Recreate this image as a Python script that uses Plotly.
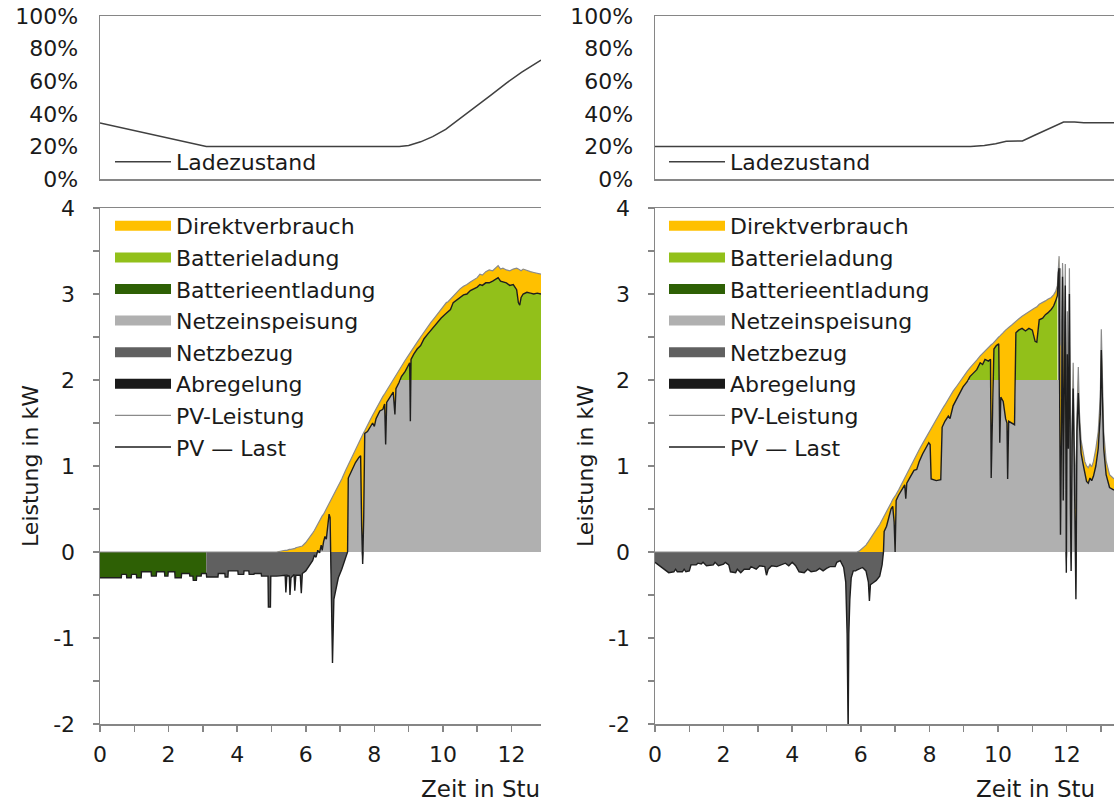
import numpy as np
import plotly.graph_objects as go

# ------------------------------------------------------------------
# DATA
# ------------------------------------------------------------------
# Left day: state of charge (%)
soc_t_L = [0.00, 1.43, 3.10, 8.73, 9.00, 9.35, 9.70, 10.08, 10.50, 10.92, 11.40, 11.86, 12.30, 12.86]
soc_L = [34.4, 27.7, 20.0, 20.0, 20.6, 22.8, 26.0, 30.5, 37.0, 43.8, 51.5, 59.0, 65.5, 73.0]

# Left day: night (PV = 0), PV - Last in kW
t_night_L = [0.00, 0.62, 0.63, 0.77, 0.78, 0.91, 0.92, 1.06, 1.07, 1.20,
             1.21, 1.49, 1.50, 1.64, 1.65, 1.88, 1.89, 1.98, 1.99, 2.18,
             2.19, 2.37, 2.38, 2.61, 2.62, 2.71, 2.72, 2.81, 2.82, 2.95,
             2.96, 3.10, 3.11, 3.44, 3.45, 3.64, 3.65, 3.73, 3.74, 4.02,
             4.03, 4.19, 4.20, 4.34, 4.35, 4.49, 4.50, 4.70, 4.71, 4.90,
             4.91, 4.97, 4.98, 5.10]
net_night_L = [-0.30, -0.30, -0.26, -0.26, -0.30, -0.30, -0.26, -0.26, -0.30, -0.30,
               -0.23, -0.23, -0.28, -0.28, -0.23, -0.23, -0.28, -0.28, -0.23, -0.23,
               -0.30, -0.30, -0.25, -0.25, -0.28, -0.28, -0.33, -0.33, -0.28, -0.28,
               -0.25, -0.25, -0.29, -0.29, -0.25, -0.25, -0.29, -0.29, -0.22, -0.22,
               -0.26, -0.26, -0.22, -0.22, -0.26, -0.26, -0.25, -0.25, -0.28, -0.28,
               -0.64, -0.64, -0.28, -0.28]

# Left day: daylight, PV power and PV - Last in kW
t_day_L = [5.15, 5.40, 5.42, 5.45, 5.52, 5.54, 5.57, 5.66, 5.68, 5.71,
           5.84, 5.87, 5.90, 6.00, 6.10, 6.20, 6.25, 6.30, 6.35, 6.40,
           6.45, 6.48, 6.52, 6.56, 6.60, 6.64, 6.68, 6.71, 6.74, 6.78,
           6.82, 6.88, 6.95, 7.05, 7.15, 7.22, 7.24, 7.35, 7.45, 7.55,
           7.60, 7.63, 7.66, 7.69, 7.72, 7.80, 7.87, 7.95, 8.00, 8.05,
           8.16, 8.25, 8.30, 8.33, 8.36, 8.45, 8.55, 8.60, 8.63, 8.72,
           8.79, 8.90, 9.00, 9.03, 9.05, 9.07, 9.15, 9.25, 9.35, 9.45,
           9.55, 9.65, 9.75, 9.85, 9.95, 10.05, 10.10, 10.15, 10.22, 10.30,
           10.40, 10.50, 10.60, 10.70, 10.80, 10.90, 11.00, 11.08, 11.15, 11.25,
           11.35, 11.45, 11.55, 11.61, 11.68, 11.75, 11.85, 11.95, 12.05, 12.15,
           12.20, 12.24, 12.28, 12.34, 12.45, 12.55, 12.65, 12.75, 12.86]
pv_day_L = [0.00, 0.02, 0.02, 0.02, 0.03, 0.03, 0.03, 0.04, 0.04, 0.05,
            0.06, 0.07, 0.07, 0.11, 0.16, 0.22, 0.25, 0.29, 0.32, 0.36,
            0.40, 0.42, 0.44, 0.47, 0.50, 0.53, 0.56, 0.58, 0.60, 0.63,
            0.66, 0.71, 0.77, 0.85, 0.94, 1.00, 1.02, 1.11, 1.20, 1.29,
            1.33, 1.35, 1.37, 1.39, 1.41, 1.48, 1.53, 1.59, 1.63, 1.66,
            1.75, 1.81, 1.84, 1.86, 1.88, 1.94, 2.01, 2.04, 2.06, 2.12,
            2.16, 2.23, 2.29, 2.31, 2.32, 2.33, 2.38, 2.44, 2.50, 2.56,
            2.62, 2.67, 2.72, 2.77, 2.82, 2.87, 2.90, 2.91, 2.94, 2.98,
            3.02, 3.06, 3.09, 3.11, 3.14, 3.17, 3.19, 3.23, 3.22, 3.26,
            3.28, 3.27, 3.31, 3.33, 3.29, 3.30, 3.28, 3.27, 3.29, 3.30,
            3.29, 3.28, 3.27, 3.29, 3.27, 3.26, 3.25, 3.24, 3.23]
net_day_L = [-0.28, -0.27, -0.47, -0.27, -0.28, -0.50, -0.30, -0.26, -0.45, -0.27,
             -0.27, -0.48, -0.25, -0.22, -0.16, -0.10, -0.04, -0.06, 0.02, -0.01,
             0.08, 0.02, 0.12, 0.18, 0.15, 0.30, 0.44, 0.40, -0.30, -1.29,
             -0.55, -0.45, -0.30, -0.20, -0.08, 0.00, 0.86, 0.96, 1.04, 1.10,
             1.12, 0.30, -0.14, 0.40, 1.38, 1.40, 1.45, 1.50, 1.46, 1.55,
             1.64, 1.66, 1.72, 1.25, 1.74, 1.80, 1.86, 1.60, 1.90, 1.97,
             2.04, 2.10, 2.18, 2.20, 1.52, 2.24, 2.30, 2.36, 2.40, 2.48,
             2.53, 2.58, 2.62, 2.68, 2.72, 2.76, 2.78, 2.80, 2.82, 2.90,
             2.93, 2.95, 2.99, 3.00, 3.04, 3.06, 3.08, 3.11, 3.10, 3.13,
             3.13, 3.15, 3.17, 3.19, 3.15, 3.14, 3.13, 3.10, 3.11, 3.05,
             2.90, 2.87, 2.96, 3.00, 3.02, 3.01, 3.00, 3.01, 3.00]

# Right day: state of charge (%)
soc_t_R = [0.00, 9.20, 9.60, 9.93, 10.24, 10.71, 11.05, 11.36, 11.70, 11.91, 12.23, 12.50, 13.38]
soc_R = [20.0, 20.0, 20.6, 21.6, 23.2, 23.3, 26.7, 29.6, 32.9, 34.9, 34.9, 34.5, 34.5]

# Right day: night (PV = 0), PV - Last in kW
t_night_R = [0.00, 0.10, 0.20, 0.30, 0.40, 0.55, 0.60, 0.65, 0.80, 0.85,
             0.90, 1.00, 1.05, 1.20, 1.25, 1.35, 1.40, 1.50, 1.70, 1.75,
             1.85, 2.00, 2.05, 2.15, 2.20, 2.35, 2.40, 2.50, 2.60, 2.75,
             2.80, 2.95, 3.05, 3.20, 3.25, 3.30, 3.40, 3.55, 3.70, 3.80,
             3.90, 4.00, 4.10, 4.20, 4.35, 4.45, 4.55, 4.70, 4.80, 4.90,
             5.00, 5.10, 5.25, 5.30, 5.40, 5.50, 5.56, 5.60, 5.63, 5.65,
             5.68, 5.72, 5.78, 5.85]
net_night_R = [-0.12, -0.15, -0.19, -0.22, -0.24, -0.23, -0.20, -0.23, -0.23, -0.20,
               -0.23, -0.22, -0.15, -0.15, -0.13, -0.14, -0.12, -0.16, -0.15, -0.12,
               -0.16, -0.14, -0.12, -0.15, -0.23, -0.24, -0.20, -0.24, -0.20, -0.20,
               -0.17, -0.20, -0.16, -0.17, -0.27, -0.20, -0.16, -0.17, -0.15, -0.13,
               -0.16, -0.12, -0.16, -0.23, -0.24, -0.20, -0.23, -0.22, -0.19, -0.22,
               -0.19, -0.17, -0.17, -0.12, -0.10, -0.18, -0.35, -0.95, -2.10, -0.95,
               -0.55, -0.30, -0.22, -0.22]

# Right day: daylight, PV power and PV - Last in kW
t_day_R = [5.88, 5.95, 6.05, 6.15, 6.22, 6.25, 6.28, 6.35, 6.45, 6.55,
           6.62, 6.66, 6.68, 6.75, 6.82, 6.88, 6.93, 6.97, 7.00, 7.03,
           7.10, 7.20, 7.28, 7.31, 7.34, 7.45, 7.55, 7.63, 7.70, 7.80,
           7.91, 7.98, 8.02, 8.05, 8.20, 8.33, 8.37, 8.45, 8.55, 8.60,
           8.69, 8.80, 8.90, 8.98, 9.10, 9.18, 9.28, 9.38, 9.48, 9.55,
           9.62, 9.72, 9.78, 9.80, 9.84, 9.88, 9.95, 10.02, 10.05, 10.08,
           10.15, 10.22, 10.26, 10.28, 10.31, 10.40, 10.48, 10.52, 10.60, 10.70,
           10.80, 10.90, 11.00, 11.08, 11.13, 11.20, 11.30, 11.38, 11.45, 11.55,
           11.62, 11.68, 11.73, 11.76, 11.78, 11.80, 11.82, 11.85, 11.88, 11.90,
           11.93, 11.96, 11.99, 12.02, 12.05, 12.08, 12.11, 12.13, 12.16, 12.19,
           12.22, 12.25, 12.27, 12.30, 12.34, 12.37, 12.42, 12.48, 12.53, 12.58,
           12.63, 12.68, 12.73, 12.78, 12.85, 12.92, 12.98, 13.01, 13.04, 13.08,
           13.15, 13.25, 13.38]
pv_day_R = [0.00, 0.01, 0.04, 0.08, 0.12, 0.14, 0.16, 0.20, 0.26, 0.32,
            0.37, 0.40, 0.42, 0.47, 0.52, 0.57, 0.61, 0.63, 0.65, 0.67,
            0.72, 0.80, 0.87, 0.89, 0.91, 1.00, 1.08, 1.14, 1.19, 1.26,
            1.34, 1.39, 1.42, 1.44, 1.54, 1.63, 1.66, 1.71, 1.78, 1.81,
            1.87, 1.93, 1.99, 2.04, 2.10, 2.14, 2.18, 2.23, 2.28, 2.31,
            2.34, 2.38, 2.40, 2.41, 2.42, 2.44, 2.47, 2.50, 2.51, 2.52,
            2.55, 2.58, 2.59, 2.60, 2.61, 2.64, 2.67, 2.68, 2.71, 2.74,
            2.77, 2.80, 2.82, 2.84, 2.85, 2.88, 2.90, 2.92, 2.94, 2.96,
            2.99, 3.03, 3.10, 3.38, 3.44, 2.40, 3.30, 1.80, 3.36, 3.00,
            2.00, 3.35, 1.20, 2.80, 1.60, 3.30, 1.00, 0.60, 1.50, 2.20,
            1.30, 1.00, 0.50, 1.60, 2.15, 1.64, 1.30, 1.18, 1.05, 1.00,
            0.98, 1.02, 0.99, 1.05, 1.20, 1.40, 1.80, 2.59, 2.00, 1.40,
            1.06, 0.90, 0.85]
net_day_R = [-0.21, -0.20, -0.18, -0.22, -0.35, -0.57, -0.38, -0.36, -0.33, -0.28,
             -0.15, 0.00, 0.24, 0.30, 0.40, 0.50, 0.53, 0.35, 0.00, 0.60,
             0.66, 0.72, 0.78, 0.62, 0.80, 0.88, 0.95, 0.96, 1.05, 1.14,
             1.22, 1.27, 1.25, 0.85, 0.83, 0.84, 1.45, 1.52, 1.58, 1.55,
             1.70, 1.78, 1.86, 1.92, 1.98, 2.04, 2.08, 2.12, 2.20, 2.18,
             2.24, 2.22, 2.24, 0.86, 1.62, 2.36, 2.40, 2.42, 1.27, 1.80,
             1.75, 1.55, 1.50, 0.85, 1.52, 1.50, 1.48, 2.55, 2.58, 2.60,
             2.57, 2.60, 2.58, 2.45, 2.44, 2.70, 2.72, 2.76, 2.78, 2.82,
             2.86, 2.92, 2.98, 3.25, 3.30, 1.50, 0.20, 1.40, 3.20, 0.60,
             1.80, 3.10, -0.24, 2.30, 1.20, 3.00, 0.50, -0.22, 1.30, 1.90,
             1.10, 0.40, -0.55, 1.40, 1.85, 1.50, 1.15, 1.02, 0.90, 0.82,
             0.80, 0.86, 0.83, 0.88, 1.00, 1.20, 1.60, 2.35, 1.80, 1.20,
             0.90, 0.75, 0.72]

FEED_LIMIT = 2.0          # kW, grid feed-in limit
DISCHARGE_END_L = 3.10    # h, battery reaches minimum SOC (left day)
CHARGE_END_L = 12.86      # h, battery charging allowed until (left day)
DISCHARGE_END_R = 0.0     # h, no discharge on right day
CHARGE_END_R = 11.75      # h, battery charging stops (right day)

X_MAX_L = 12.86
X_MAX_R = 13.38

SOC_TICKS = [0, 20, 40, 60, 80, 100]
SOC_TICKTEXT = ["0%", "20%", "40%", "60%", "80%", "100%"]
P_TICKS = [-2, -1.5, -1, -0.5, 0, 0.5, 1, 1.5, 2, 2.5, 3, 3.5, 4]
P_TICKTEXT = ["-2", "", "-1", "", "0", "", "1", "", "2", "", "3", "", "4"]
T_TICKS = [0, 1, 2, 3, 4, 5, 6, 7, 8, 9, 10, 11, 12, 13]
T_TICKTEXT = ["0", "", "2", "", "4", "", "6", "", "8", "", "10", "", "12", ""]

# ------------------------------------------------------------------
# STYLE
# ------------------------------------------------------------------
FONT = "DejaVu Sans"
TXT = "#1a1a1a"
C_DIRECT = "#FFC000"
C_CHARGE = "#92C01A"
C_DISCH = "#2E6005"
C_FEED = "#B0B0B0"
C_GRID = "#606060"
C_CURT = "#1A1A1A"
C_PV = "#8A8A8A"
C_NET = "#1E1E1E"
C_SOC = "#404040"
C_AXIS = "#868686"

W, H = 1114, 803


def px_x(p):
    return p / W


def px_y(p):
    return 1 - p / H


fig = go.Figure()


def add_band(x, lo, hi, color, xa, ya):
    fig.add_trace(go.Scatter(x=x, y=lo, mode="lines", line=dict(width=0, color=color),
                             showlegend=False, hoverinfo="skip", xaxis=xa, yaxis=ya))
    fig.add_trace(go.Scatter(x=x, y=hi, mode="lines", line=dict(width=0, color=color),
                             fill="tonexty", fillcolor=color, showlegend=False,
                             hoverinfo="skip", xaxis=xa, yaxis=ya))


def power_panel(t_n, net_n, t_d, pv_d, net_d, dis_end, chg_end, xa, ya, leg):
    t = np.array(t_n + t_d, dtype=float)
    pv = np.concatenate([np.zeros(len(t_n)), np.array(pv_d, dtype=float)])
    net = np.array(net_n + net_d, dtype=float)
    zero = np.zeros_like(t)
    lim = np.full_like(t, FEED_LIMIT)
    pos = np.maximum(net, 0)
    neg = np.minimum(net, 0)
    feed = np.minimum(pos, FEED_LIMIT)
    over = np.maximum(net, FEED_LIMIT)

    add_band(t, zero, feed, C_FEED, xa, ya)                       # Netzeinspeisung
    m = t <= chg_end
    add_band(t[m], lim[m], over[m], C_CHARGE, xa, ya)             # Batterieladung
    m = t >= chg_end
    if m.sum() > 1:
        add_band(t[m], lim[m], over[m], C_CURT, xa, ya)           # Abregelung
    add_band(t, pos, pv, C_DIRECT, xa, ya)                        # Direktverbrauch
    m = t <= dis_end
    if m.sum() > 1:
        add_band(t[m], neg[m], zero[m], C_DISCH, xa, ya)          # Batterieentladung
    m = t >= dis_end
    add_band(t[m], neg[m], zero[m], C_GRID, xa, ya)               # Netzbezug

    fig.add_trace(go.Scatter(x=t, y=pv, mode="lines", line=dict(color=C_PV, width=1.2),
                             name="PV-Leistung", legend=leg, legendrank=7,
                             hoverinfo="skip", xaxis=xa, yaxis=ya))
    fig.add_trace(go.Scatter(x=t, y=net, mode="lines", line=dict(color=C_NET, width=1.4),
                             name="PV \u2014 Last", legend=leg, legendrank=8,
                             hoverinfo="skip", xaxis=xa, yaxis=ya))
    entries = [("Direktverbrauch", C_DIRECT), ("Batterieladung", C_CHARGE),
               ("Batterieentladung", C_DISCH), ("Netzeinspeisung", C_FEED),
               ("Netzbezug", C_GRID), ("Abregelung", C_CURT)]
    for i, (name, col) in enumerate(entries):
        fig.add_trace(go.Scatter(x=[None], y=[None], mode="lines",
                                 line=dict(color=col, width=12), name=name,
                                 legend=leg, legendrank=i + 1, hoverinfo="skip",
                                 xaxis=xa, yaxis=ya))


def soc_panel(ts, soc, xa, ya, leg):
    fig.add_trace(go.Scatter(x=ts, y=soc, mode="lines", line=dict(color=C_SOC, width=1.5),
                             name="Ladezustand", legend=leg, hoverinfo="skip",
                             xaxis=xa, yaxis=ya))


soc_panel(soc_t_L, soc_L, "x", "y", "legend")
power_panel(t_night_L, net_night_L, t_day_L, pv_day_L, net_day_L,
            DISCHARGE_END_L, CHARGE_END_L, "x2", "y2", "legend2")
soc_panel(soc_t_R, soc_R, "x3", "y3", "legend3")
power_panel(t_night_R, net_night_R, t_day_R, pv_day_R, net_day_R,
            DISCHARGE_END_R, CHARGE_END_R, "x4", "y4", "legend4")

# ------------------------------------------------------------------
# LAYOUT
# ------------------------------------------------------------------
tickfont = dict(family=FONT, size=22, color=TXT)
dom_xL = [px_x(100), px_x(541)]
dom_xR = [px_x(655), 1.0]
dom_top = [px_y(179), px_y(16)]
dom_bot = [px_y(724), px_y(208)]


def x_top(dom, rng, anchor):
    return dict(domain=dom, range=[0, rng], anchor=anchor, showline=True, linecolor=C_AXIS,
                linewidth=1.5, mirror=True, showticklabels=False, ticks="",
                showgrid=False, zeroline=False, fixedrange=True, automargin=False)


def y_top(dom, anchor):
    return dict(domain=dom, range=[0, 100], anchor=anchor, tickmode="array",
                tickvals=SOC_TICKS, ticktext=SOC_TICKTEXT,
                showline=True, linecolor=C_AXIS, linewidth=1.5,
                ticks="", tickfont=tickfont, showgrid=False, zeroline=False,
                ticklabelstandoff=16, fixedrange=True, automargin=False)


def x_bot(dom, rng, anchor):
    return dict(domain=dom, range=[0, rng], anchor=anchor, tickmode="array",
                tickvals=T_TICKS, ticktext=T_TICKTEXT,
                ticks="outside", ticklen=6, tickwidth=1.5, tickcolor=C_AXIS,
                showline=True, linecolor=C_AXIS, linewidth=1.5, mirror=True,
                tickfont=tickfont, showgrid=False, zeroline=False,
                ticklabelstandoff=4, fixedrange=True, automargin=False)


def y_bot(dom, anchor):
    return dict(domain=dom, range=[-2, 4], anchor=anchor, tickmode="array",
                tickvals=P_TICKS, ticktext=P_TICKTEXT,
                ticks="outside", ticklen=6, tickwidth=1.5, tickcolor=C_AXIS,
                showline=True, linecolor=C_AXIS, linewidth=1.5,
                tickfont=tickfont, showgrid=False, zeroline=False,
                ticklabelstandoff=13, fixedrange=True, automargin=False)


leg_common = dict(font=dict(family=FONT, size=22, color=TXT), bgcolor="rgba(0,0,0,0)",
                  borderwidth=0, itemwidth=56, traceorder="normal", xanchor="left",
                  yanchor="top", tracegroupgap=0, itemclick=False, itemdoubleclick=False)

fig.update_layout(
    width=W, height=H,
    margin=dict(l=0, r=0, t=0, b=0, autoexpand=False),
    paper_bgcolor="white", plot_bgcolor="white",
    font=dict(family=FONT, size=22, color=TXT),
    xaxis=x_top(dom_xL, X_MAX_L, "y"),
    yaxis=y_top(dom_top, "x"),
    xaxis2=x_bot(dom_xL, X_MAX_L, "y2"),
    yaxis2=y_bot(dom_bot, "x2"),
    xaxis3=x_top(dom_xR, X_MAX_R, "y3"),
    yaxis3=y_top(dom_top, "x3"),
    xaxis4=x_bot(dom_xR, X_MAX_R, "y4"),
    yaxis4=y_bot(dom_bot, "x4"),
    legend=dict(x=px_x(110), y=px_y(141), **leg_common),
    legend2=dict(x=px_x(110), y=px_y(205), **leg_common),
    legend3=dict(x=px_x(664), y=px_y(141), **leg_common),
    legend4=dict(x=px_x(664), y=px_y(205), **leg_common),
    showlegend=True,
    annotations=[
        dict(text="Leistung in kW", x=px_x(30), y=px_y(466), xref="paper", yref="paper",
             textangle=-90, showarrow=False, xanchor="center", yanchor="middle",
             font=dict(family=FONT, size=22, color=TXT)),
        dict(text="Leistung in kW", x=px_x(585), y=px_y(466), xref="paper", yref="paper",
             textangle=-90, showarrow=False, xanchor="center", yanchor="middle",
             font=dict(family=FONT, size=22, color=TXT)),
        dict(text="Zeit in Stu", x=px_x(419), y=px_y(789), xref="paper", yref="paper",
             showarrow=False, xanchor="left", yanchor="middle",
             font=dict(family=FONT, size=23, color=TXT)),
        dict(text="Zeit in Stu", x=px_x(974), y=px_y(789), xref="paper", yref="paper",
             showarrow=False, xanchor="left", yanchor="middle",
             font=dict(family=FONT, size=23, color=TXT)),
    ],
)

fig.write_html("out.html", config={"displayModeBar": False, "staticPlot": True},
               post_script="document.body.style.margin='0';document.body.style.overflow='hidden';")
